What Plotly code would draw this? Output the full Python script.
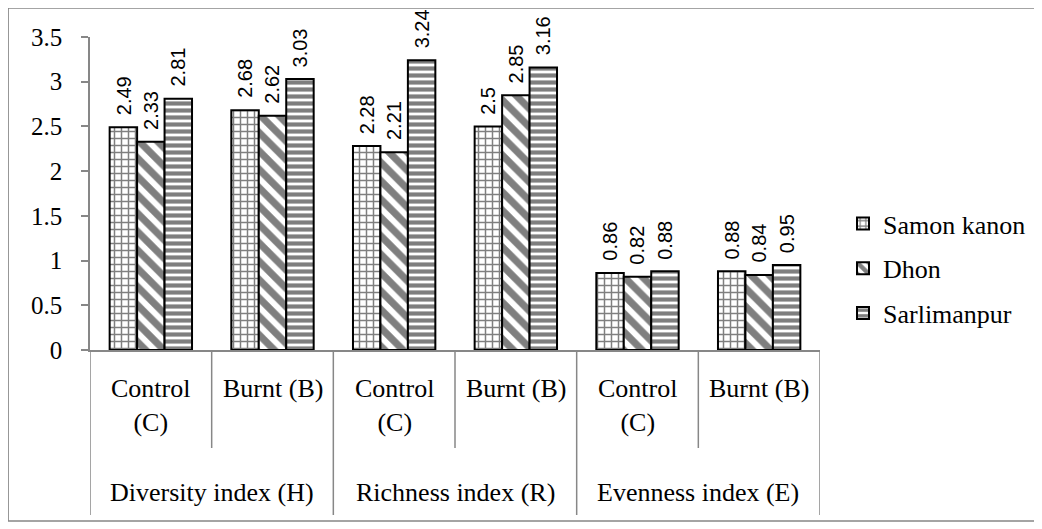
import plotly.graph_objects as go

# ---- data ----
indices = ["Diversity index (H)", "Richness index (R)", "Evenness index (E)"]
treatments = ["Control<br>(C)", "Burnt (B)"]
sites = ["Samon kanon", "Dhon", "Sarlimanpur"]
samon_kanon = [2.49, 2.68, 2.28, 2.50, 0.86, 0.88]
dhon = [2.33, 2.62, 2.21, 2.85, 0.82, 0.84]
sarlimanpur = [2.81, 3.03, 3.24, 3.16, 0.88, 0.95]
y_tick_vals = [0, 0.5, 1, 1.5, 2, 2.5, 3, 3.5]
y_tick_text = ["0", "0.5", "1", "1.5", "2", "2.5", "3", "3.5"]

# ---- layout geometry (screen pixels; page body has an 8px margin) ----
OFF = 8
W, H = 1042 - OFF, 529 - OFF
AX_L, AX_R, AX_T, AX_B = 90, 821, 37, 350   # plot area in screen pixels
L, T = AX_L - OFF, AX_T - OFF
PW, PH = AX_R - AX_L, AX_B - AX_T
R, B = W - L - PW, H - T - PH
GRAY = "#878787"
SERIF = "Liberation Serif"
SANS = "Liberation Sans"
BARGAP = 0.323


def px_x(px):
    return (px - AX_L) / PW


def px_y(py):
    return (AX_B - py) / PH


cats = [f"{i}|{t}" for i in indices for t in treatments]
series = [samon_kanon, dhon, sarlimanpur]
patterns = [("+", 7, 0.38), ("\\", 13, 0.55), ("-", 7, 0.6)]

fig = go.Figure()
for k, (name, vals, (shp, sz, sol)) in enumerate(zip(sites, series, patterns)):
    fig.add_bar(
        x=cats, y=vals, name=name, legendgroup=name,
        marker=dict(color="white", line=dict(color="black", width=2),
                    pattern=dict(shape=shp, size=sz, solidity=sol,
                                 fgcolor="black", bgcolor="white")),
    )

annotations = []
bw = (1 - BARGAP) / len(series)
for j, vals in enumerate(series):
    for k, v in enumerate(vals):
        annotations.append(dict(
            x=k + (j - 1) * bw, y=v, xref="x", yref="y",
            text=f"{v:g}", textangle=-90, showarrow=False,
            xanchor="center", yanchor="bottom", yshift=12,
            borderpad=0, borderwidth=0,
            font=dict(family=SANS, size=20, color="black"),
        ))

for ci, c in enumerate(cats):
    t = treatments[ci % len(treatments)]
    annotations.append(dict(
        x=ci, y=px_y(372), xref="x", yref="paper", text=t,
        showarrow=False, xanchor="center", yanchor="top",
        font=dict(family=SERIF, size=26, color="black"),
    ))
for gi, g in enumerate(indices):
    annotations.append(dict(
        x=2 * gi + 0.5, y=px_y(476), xref="x", yref="paper", text=g,
        showarrow=False, xanchor="center", yanchor="top",
        font=dict(family=SERIF, size=26, color="black"),
    ))

shapes = []
for b in range(len(cats) + 1):
    bottom = 515 if b % 2 == 0 else 448
    shapes.append(dict(type="line", xref="x", yref="paper",
                       x0=b - 0.5, x1=b - 0.5, y0=0, y1=px_y(bottom),
                       line=dict(color=GRAY, width=1.5)))
shapes.append(dict(type="rect", xref="paper", yref="paper",
                   x0=px_x(8), x1=px_x(1040), y0=px_y(521), y1=px_y(8),
                   line=dict(color=GRAY, width=1.5), layer="below"))

fig.update_layout(
    width=W, height=H, autosize=False,
    margin=dict(l=L, r=R, t=T, b=B, pad=0),
    paper_bgcolor="white", plot_bgcolor="white",
    font=dict(family=SERIF, size=26, color="black"),
    barmode="group", bargap=BARGAP, bargroupgap=0,
    showlegend=True,
    legend=dict(x=px_x(843), y=px_y(200), xanchor="left", yanchor="top",
                font=dict(family=SERIF, size=26, color="black"),
                traceorder="grouped", tracegroupgap=8,
                itemwidth=30,
                bgcolor="rgba(0,0,0,0)"),
    annotations=annotations, shapes=shapes,
    xaxis=dict(type="category", categoryarray=cats, range=[-0.5, len(cats) - 0.5],
               showticklabels=False, ticks="", showline=True, linecolor=GRAY,
               linewidth=1.5, showgrid=False, zeroline=False),
    yaxis=dict(range=[0, 3.5], tickvals=y_tick_vals, ticktext=y_tick_text,
               ticks="outside", ticklen=7, tickcolor=GRAY, tickwidth=1.5,
               showline=True, linecolor=GRAY, linewidth=1.5, showgrid=False,
               zeroline=False, ticklabelstandoff=14,
               tickfont=dict(family=SERIF, size=25, color="black")),
)

fig.write_html("out.html")
